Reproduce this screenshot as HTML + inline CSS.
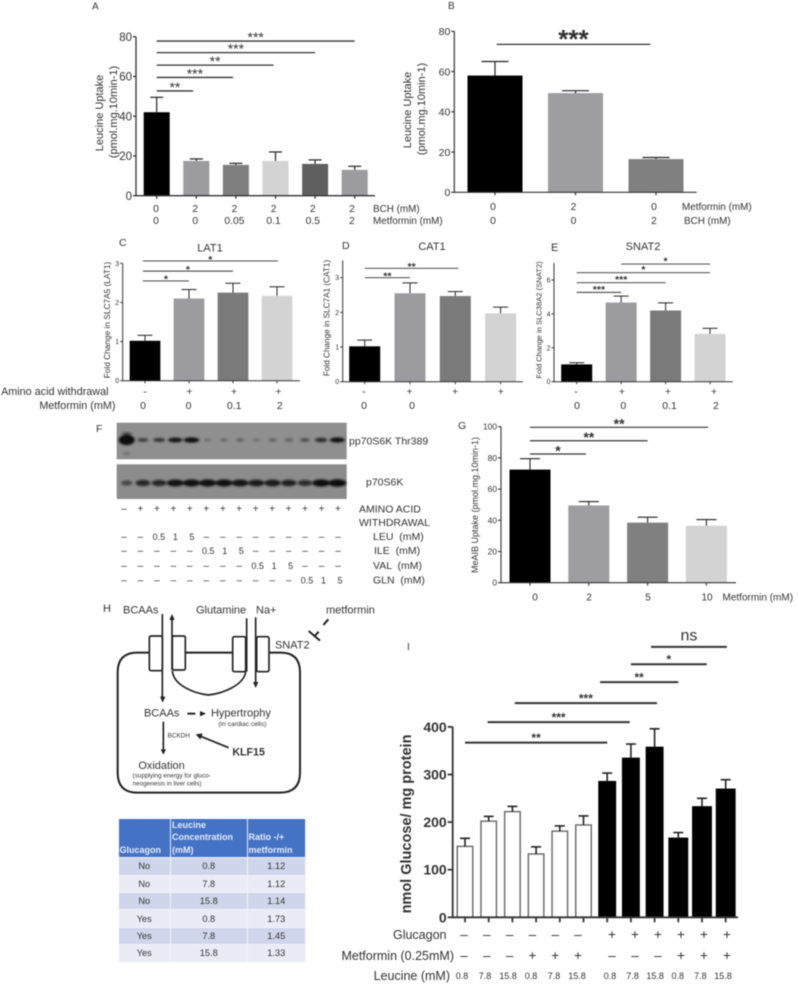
<!DOCTYPE html>
<html lang="en">
<head>
<meta charset="utf-8">
<title>Metformin and amino acid uptake figure</title>
<style>
html,body{margin:0;padding:0;background:#fff;}
#figure{position:relative;width:799px;height:984px;overflow:hidden;background:#fff;filter:blur(0.5px);font-family:"Liberation Sans",sans-serif;}
#canvas{position:absolute;left:0;top:0;}
#canvas text{font-family:"Liberation Sans",sans-serif;fill:#333;}
#ratio-table{position:absolute;left:118.5px;top:819px;width:187px;height:136px;border-collapse:collapse;table-layout:fixed;font-size:9.2px;color:#333;}
#ratio-table th{background:#4472c4;color:#e6ecf8;font-weight:bold;text-align:left;vertical-align:bottom;padding:0 0 1px 1px;line-height:12.4px;border-right:1px solid #e8ecf6;font-size:9px;}
#ratio-table td{text-align:center;padding:0;height:16.4px;border-right:1px solid #f4f5fa;border-top:1px solid #f2f3f9;}
#ratio-table tr.odd td{background:#cfd5ea;}
#ratio-table tr.even td{background:#e9ebf5;}
</style>
</head>
<body>
<div id="figure">
<svg id="canvas" xmlns="http://www.w3.org/2000/svg" width="799" height="984" viewBox="0 0 799 984">
  <defs>
    <filter id="band-blur" x="-30%" y="-80%" width="160%" height="260%"><feGaussianBlur stdDeviation="1.1"></feGaussianBlur></filter>
  </defs>

  <!-- Panel H pathway diagram, drawn in 3x local coordinates -->
  <g id="pathway" transform="translate(80 610) scale(0.33333)">
    <path d="M207 128 H172 Q113 128 113 187 V488 Q113 548 172 548 H600 Q660 548 660 488 V187 Q660 128 602 128 H567" fill="none" stroke="#222" stroke-width="6"></path>
    <line x1="316" y1="128" x2="458" y2="128" stroke="#222" stroke-width="6"></line>
    <rect x="208" y="78" width="39" height="104" rx="5" fill="#fff" stroke="#222" stroke-width="5"></rect>
    <rect x="277" y="78" width="39" height="102" rx="5" fill="#fff" stroke="#222" stroke-width="5"></rect>
    <rect x="458" y="80" width="39" height="105" rx="5" fill="#fff" stroke="#222" stroke-width="5"></rect>
    <rect x="530" y="80" width="37" height="105" rx="5" fill="#fff" stroke="#222" stroke-width="5"></rect>
    <path d="M277 182 C280 225 340 250 385 255 C430 250 492 225 497 185" fill="none" stroke="#222" stroke-width="5"></path>
    <line x1="247" y1="12" x2="247" y2="262" stroke="#222" stroke-width="5"></line>
    <polygon points="240,260 256,260 248,278" fill="#222"></polygon>
    <line x1="276" y1="180" x2="276" y2="28" stroke="#222" stroke-width="5"></line>
    <polygon points="268,30 284,30 276,12" fill="#222"></polygon>
    <line x1="500" y1="25" x2="500" y2="185" stroke="#222" stroke-width="5"></line>
    <line x1="527" y1="22" x2="527" y2="218" stroke="#222" stroke-width="5"></line>
    <polygon points="519,216 535,216 527,234" fill="#222"></polygon>
    <line x1="686" y1="63" x2="720" y2="92" stroke="#222" stroke-width="6"></line>
    <line x1="704" y1="78" x2="716" y2="65" stroke="#222" stroke-width="6"></line>
    <line x1="730" y1="45" x2="745" y2="28" stroke="#222" stroke-width="6"></line>
    <line x1="322" y1="311" x2="346" y2="311" stroke="#222" stroke-width="6"></line>
    <polygon points="360,303 360,319 378,311" fill="#222"></polygon>
    <line x1="250" y1="335" x2="250" y2="420" stroke="#222" stroke-width="5"></line>
    <polygon points="242,418 258,418 250,434" fill="#222"></polygon>
    <line x1="446" y1="413" x2="362" y2="379" stroke="#222" stroke-width="5"></line>
    <polygon points="347,373 368,370 361,388" fill="#222"></polygon>
    <text x="585" y="115" font-size="33">SNAT2</text>
    <text x="192" y="320" font-size="33">BCAAs</text>
    <text x="393" y="320" font-size="33">Hypertrophy</text>
    <text x="415" y="348" font-size="20">(in cardiac cells)</text>
    <text x="263" y="382" font-size="19">BCKDH</text>
    <text x="457" y="436" font-size="32" font-weight="bold">KLF15</text>
    <text x="175" y="477" font-size="33">Oxidation</text>
    <text x="158" y="503" font-size="19">(supplying energy for gluco-</text>
    <text x="158" y="527" font-size="19">neogenesis in liver cells)</text>
  </g>
  <text x="103" y="612" font-size="11">H</text>
  <text x="123" y="613.5" font-size="11">BCAAs</text>
  <text x="196" y="613.5" font-size="11">Glutamine</text>
  <text x="256" y="613.5" font-size="11">Na+</text>
  <text x="326" y="613.5" font-size="11">metformin</text>

  <!-- Panel F blot labels -->
  <text x="96" y="432" font-size="10.5">F</text>
  <text x="349" y="444.5" font-size="10.5">pp70S6K Thr389</text>
  <text x="366" y="485.5" font-size="10.5">p70S6K</text>
  <text x="359" y="512.5" font-size="10.5">AMINO ACID</text>
  <text x="359" y="526" font-size="10.5">WITHDRAWAL</text>
  <text x="373" y="540" font-size="10.5" xml:space="preserve">LEU  (mM)</text>
  <text x="374" y="554" font-size="10.5" xml:space="preserve">ILE  (mM)</text>
  <text x="373" y="569" font-size="10.5" xml:space="preserve">VAL  (mM)</text>
  <text x="373" y="583.5" font-size="10.5" xml:space="preserve">GLN  (mM)</text>
</svg>

<table id="ratio-table">
  <colgroup><col style="width:52px"><col style="width:76.5px"><col style="width:58.5px"></colgroup>
  <thead>
    <tr>
      <th>Glucagon</th>
      <th>Leucine<br>Concentration<br>(mM)</th>
      <th>Ratio -/+<br>metformin</th>
    </tr>
  </thead>
  <tbody>
    <tr class="odd"><td>No</td><td>0.8</td><td>1.12</td></tr>
    <tr class="even"><td>No</td><td>7.8</td><td>1.12</td></tr>
    <tr class="odd"><td>No</td><td>15.8</td><td>1.14</td></tr>
    <tr class="even"><td>Yes</td><td>0.8</td><td>1.73</td></tr>
    <tr class="odd"><td>Yes</td><td>7.8</td><td>1.45</td></tr>
    <tr class="even"><td>Yes</td><td>15.8</td><td>1.33</td></tr>
  </tbody>
</table>
</div>

<script>
// ----- Panel A data -----
const aValues = [42, 17.5, 15.5, 17.5, 16, 13];
const aErrorTops = [49.5, 18.5, 16.3, 22, 18, 14.8];
const aTicks = [0, 20, 40, 60, 80];
const aBchLabels = ['0', '2', '2', '2', '2', '2'];
const aMetforminLabels = ['0', '0', '0.05', '0.1', '0.5', '2'];
const aSigFrom = [0, 0, 0, 0, 0];
const aSigTo = [5, 4, 2.95, 1.93, 0.92];
const aSigLevels = [77.8, 72, 65.7, 59.5, 52.7];
const aSigText = ['***', '***', '**', '***', '**'];

// ----- Panel B data -----
const bValues = [58, 49.3, 16.5];
const bErrorTops = [65, 50.5, 17.3];
const bTicks = [0, 20, 40, 60, 80];
const bMetforminLabels = ['0', '2', '0'];
const bBchLabels = ['0', '0', '2'];
const bSigFrom = [0.02];
const bSigTo = [1.93];
const bSigLevels = [73.5];
const bSigText = ['***'];

// ----- Panel C data -----
const cValues = [1.02, 2.1, 2.25, 2.17];
const cErrorTops = [1.16, 2.33, 2.49, 2.4];
const cTicks = [0, 1, 2, 3];
const cWithdrawalLabels = ['-', '+', '+', '+'];
const cMetforminLabels = ['0', '0', '0.1', '2'];
const cSigFrom = [-0.05, -0.05, -0.05];
const cSigTo = [3.02, 2, 1];
const cSigLevels = [3.06, 2.8, 2.55];
const cSigText = ['*', '*', '*'];

// ----- Panel D data -----
const dValues = [1.02, 2.55, 2.47, 1.97];
const dErrorTops = [1.2, 2.85, 2.6, 2.15];
const dTicks = [0, 1, 2, 3];
const dWithdrawalLabels = ['-', '+', '+', '+'];
const dMetforminLabels = ['0', '0'];
const dSigFrom = [0, 0];
const dSigTo = [2.07, 1];
const dSigLevels = [3.27, 3.0];
const dSigText = ['**', '**'];

// ----- Panel E data -----
const eValues = [1.02, 4.67, 4.2, 2.82];
const eErrorTops = [1.12, 5.05, 4.65, 3.15];
const eTicks = [0, 2, 4, 6];
const eWithdrawalLabels = ['-', '+', '+', '+'];
const eMetforminLabels = ['0', '0', '0.1', '2'];
const eSigFrom = [1, 0, 0, 0];
const eSigTo = [3, 3, 2, 1];
const eSigLevels = [6.94, 6.43, 5.84, 5.27];
const eSigText = ['*', '*', '***', '***'];

// ----- Panel G data -----
const gValues = [72.5, 49.5, 38.5, 36.5];
const gErrorTops = [79.5, 52, 42, 40.5];
const gTicks = [0, 20, 40, 60, 80, 100];
const gMetforminLabels = ['0', '2', '5', '10'];
const gSigFrom = [0, 0, 0];
const gSigTo = [3.03, 2, 0.95];
const gSigLevels = [99.6, 91, 82.5];
const gSigText = ['**', '**', '*'];

// ----- Panel I data -----
const iValues = [149, 202, 222, 133, 181, 194, 285, 334, 357, 166, 232, 269];
const iErrorTops = [166, 212, 233, 148, 192, 213, 303, 364, 396, 178, 250, 289];
const iTicks = [0, 100, 200, 300, 400];
const iGlucagonLabels = ['–', '–', '–', '–', '–', '–', '+', '+', '+', '+', '+', '+'];
const iMetforminLabels = ['–', '–', '–', '+', '+', '+', '–', '–', '–', '+', '+', '+'];
const iLeucineLabels = ['0.8', '7.8', '15.8', '0.8', '7.8', '15.8', '0.8', '7.8', '15.8', '0.8', '7.8', '15.8'];
const iSigFrom = [0, 0.95, 2.1, 5.7, 7, 7.85];
const iSigTo = [6, 6.95, 8.1, 9, 10.2, 11.05];
const iSigLevels = [367, 410, 450, 494, 531.5, 568];
const iSigText = ['**', '***', '***', '**', '*', 'ns'];

// ----- Panel F blot data (relative band intensity per lane) -----
const phosphoBands = [1, 0.55, 0.62, 0.85, 0.95, 0.18, 0.22, 0.28, 0.18, 0.28, 0.3, 0.42, 0.68, 0.92];
const totalBands = [0.5, 0.75, 0.75, 0.9, 0.92, 0.92, 0.92, 0.88, 0.85, 0.85, 0.8, 0.72, 0.95, 0.98];
const fWithdrawalLabels = ['–', '+', '+', '+', '+', '+', '+', '+', '+', '+', '+', '+', '+', '+'];
const fLeuLabels = ['–', '–', '0.5', '1', '5', '–', '–', '–', '–', '–', '–', '–', '–', '–'];
const fIleLabels = ['–', '–', '–', '–', '–', '0.5', '1', '5', '–', '–', '–', '–', '–', '–'];
const fValLabels = ['–', '–', '–', '–', '–', '–', '–', '–', '0.5', '1', '5', '–', '–', '–'];
const fGlnLabels = ['–', '–', '–', '–', '–', '–', '–', '–', '–', '–', '–', '0.5', '1', '5'];

const SVG_NS = 'http://www.w3.org/2000/svg';
const canvas = document.getElementById('canvas');

function mk(tag, parent, attrs, content) {
  const node = document.createElementNS(SVG_NS, tag);
  Object.keys(attrs).forEach(function (k) { node.setAttribute(k, attrs[k]); });
  if (content !== undefined) node.textContent = content;
  parent.appendChild(node);
  return node;
}

function drawPanel(p) {
  const xAt = function (i) { return p.x0 + i * p.step; };
  const yAt = function (v) { return p.y0 - v * p.unit; };
  const g = mk('g', canvas, {});
  
  

  p.values.forEach(function (v, i) {
    const w = p.barWidths ? p.barWidths[i] : p.barWidth;
    const bar = mk('rect', g, {
      x: xAt(i) - w / 2, y: yAt(v), width: w, height: yAt(0) - yAt(v),
      fill: p.fills[i], stroke: p.strokes ? p.strokes[i] : 'none', 'stroke-width': p.strokes ? 1.4 : 0
    });
    
    

    const stem = mk('line', g, {
      x1: xAt(i), x2: xAt(i), y1: yAt(v), y2: yAt(p.errors[i]),
      stroke: '#222', 'stroke-width': p.errWidth
    });
    
    

    const cap = mk('line', g, {
      x1: xAt(i) - p.capWidth / 2, x2: xAt(i) + p.capWidth / 2, y1: yAt(p.errors[i]), y2: yAt(p.errors[i]),
      stroke: '#222', 'stroke-width': p.errWidth
    });
    
    

    const tick = mk('line', g, {
      x1: xAt(i), x2: xAt(i), y1: yAt(0), y2: yAt(0) + p.tickLen,
      stroke: '#333', 'stroke-width': p.axisWidth
    });
    
    
  });

  const yAxis = mk('line', g, {
    x1: p.axisX, x2: p.axisX, y1: yAt(p.yMax), y2: yAt(0) + p.axisWidth / 2,
    stroke: '#333', 'stroke-width': p.axisWidth
  });
  
  

  const xAxis = mk('line', g, {
    x1: p.axisX, x2: p.axisEnd, y1: yAt(0), y2: yAt(0),
    stroke: '#333', 'stroke-width': p.axisWidth
  });
  
  

  p.ticks.forEach(function (t) {
    const tick = mk('line', g, {
      x1: p.axisX - p.tickLen, x2: p.axisX, y1: yAt(t), y2: yAt(t),
      stroke: '#333', 'stroke-width': p.axisWidth
    });
    
    

    const label = mk('text', g, {
      x: p.axisX - p.tickLen - 1, y: yAt(t) + p.tickFont * 0.36, 'text-anchor': 'end',
      'font-size': p.tickFont, 'font-weight': p.tickWeight || 'normal'
    }, String(t));
    
    
  });

  p.sigLevels.forEach(function (level, i) {
    const ly = yAt(level);
    const x1 = xAt(p.sigFrom[i]);
    const x2 = xAt(p.sigTo[i]);
    const line = mk('line', g, { x1: x1, x2: x2, y1: ly, y2: ly, stroke: '#333', 'stroke-width': p.sigWidth });
    
    

    const isNs = p.sigText[i] === 'ns';
    const mark = mk('text', g, {
      x: (x1 + x2) / 2, 'text-anchor': 'middle',
      y: isNs ? ly - 6.3 : ly - p.sigGap + 0.43 * p.sigFont,
      'font-size': isNs ? 16 : p.sigFont,
      'font-weight': isNs ? 'normal' : (p.sigWeight || 'bold')
    }, p.sigText[i]);
    
    
  });

  p.rows.forEach(function (row, r) {
    row.labels.forEach(function (text, i) {
      const cell = mk('text', g, {
        x: row.at(i), y: row.y, 'text-anchor': 'middle', 'font-size': row.size
      }, text);
      
      
    });
  });
}

function addStaticText(text, x, y, size, anchor, weight) {
  const t = mk('text', canvas, { x: x, y: y, 'font-size': size, 'text-anchor': anchor || 'start', 'font-weight': weight || 'normal' }, text);
  return t;
}

function addRotatedText(text, x, y, size, weight) {
  const t = mk('text', canvas, {
    x: 0, y: 0, 'font-size': size, 'text-anchor': 'middle', 'font-weight': weight || 'normal',
    transform: 'translate(' + x + ' ' + y + ') rotate(-90)'
  }, text);
  return t;
}

drawPanel({
  id: 'a', name: 'leucine-uptake-bch-chart', x0: 156.7, step: 39.6, y0: 195.7, unit: 1.9875, yMax: 80,
  axisX: 136, axisEnd: 375, axisWidth: 1.3, tickLen: 3, tickFont: 11.5, barWidth: 26,
  values: aValues, errors: aErrorTops, ticks: aTicks, capWidth: 13, errWidth: 1.2,
  fills: ['#000', '#9c9ca0', '#7f7f7f', '#d3d3d3', '#5f5f5f', '#9c9ca0'],
  sigFrom: aSigFrom, sigTo: aSigTo, sigLevels: aSigLevels, sigText: aSigText, sigWidth: 1.3, sigFont: 14, sigGap: 5, sigWeight: 'normal',
  rows: [
    { labels: aBchLabels, y: 212, size: 10.3, at: function (i) { return 156 + i * 39.2; } },
    { labels: aMetforminLabels, y: 224, size: 10.3, at: function (i) { return 156 + i * 39.2; } }
  ]
});

drawPanel({
  id: 'b', name: 'leucine-uptake-metformin-chart', x0: 495, step: 80.5, y0: 192.3, unit: 2.0125, yMax: 80,
  axisX: 454.3, axisEnd: 696.7, axisWidth: 1.2, tickLen: 3, tickFont: 10.5, barWidth: 55,
  values: bValues, errors: bErrorTops, ticks: bTicks, capWidth: 27, errWidth: 1.2,
  fills: ['#000', '#9e9ea2', '#808080'],
  sigFrom: bSigFrom, sigTo: bSigTo, sigLevels: bSigLevels, sigText: bSigText, sigWidth: 1.3, sigFont: 26, sigGap: 7.5,
  rows: [
    { labels: bMetforminLabels, y: 210, size: 10.3, at: function (i) { return 493 + i * 80.5; } },
    { labels: bBchLabels, y: 224, size: 10.3, at: function (i) { return 493 + i * 80.5; } }
  ]
});

drawPanel({
  id: 'c', name: 'lat1-fold-change-chart', x0: 145, step: 44, y0: 380.7, unit: 39.13, yMax: 3,
  axisX: 122.7, axisEnd: 300, axisWidth: 1, tickLen: 2.5, tickFont: 7, barWidth: 30.7,
  values: cValues, errors: cErrorTops, ticks: cTicks, capWidth: 15, errWidth: 1,
  fills: ['#000', '#9c9ca0', '#7a7a7a', '#d3d3d3'],
  sigFrom: cSigFrom, sigTo: cSigTo, sigLevels: cSigLevels, sigText: cSigText, sigWidth: 0.9, sigFont: 10.5, sigGap: 2.7,
  rows: [
    { labels: cWithdrawalLabels, y: 395, size: 10.5, at: function (i) { return 145 + i * 44.5; } },
    { labels: cMetforminLabels, y: 409, size: 10.5, at: function (i) { return 143 + i * 45.6; } }
  ]
});

drawPanel({
  id: 'd', name: 'cat1-fold-change-chart', x0: 364.7, step: 45.3, y0: 381.7, unit: 34.67, yMax: 3.5,
  axisX: 342.7, axisEnd: 523, axisWidth: 1, tickLen: 2.5, tickFont: 7, barWidth: 31,
  values: dValues, errors: dErrorTops, ticks: dTicks, capWidth: 15, errWidth: 1,
  fills: ['#000', '#9c9ca0', '#7a7a7a', '#d3d3d3'],
  sigFrom: dSigFrom, sigTo: dSigTo, sigLevels: dSigLevels, sigText: dSigText, sigWidth: 0.9, sigFont: 10.5, sigGap: 2.7,
  rows: [
    { labels: dWithdrawalLabels, y: 395, size: 10.5, at: function (i) { return 364 + i * 45.6; } },
    { labels: dMetforminLabels, y: 409, size: 10.5, at: function (i) { return 364 + i * 48; } }
  ]
});

drawPanel({
  id: 'e', name: 'snat2-fold-change-chart', x0: 576.7, step: 44.45, y0: 381.7, unit: 16.95, yMax: 7,
  axisX: 554, axisEnd: 732.7, axisWidth: 1, tickLen: 2.5, tickFont: 7, barWidth: 31,
  values: eValues, errors: eErrorTops, ticks: eTicks, capWidth: 15, errWidth: 1,
  fills: ['#000', '#9c9ca0', '#7a7a7a', '#d3d3d3'],
  sigFrom: eSigFrom, sigTo: eSigTo, sigLevels: eSigLevels, sigText: eSigText, sigWidth: 0.9, sigFont: 10.5, sigGap: 4,
  rows: [
    { labels: eWithdrawalLabels, y: 395, size: 10.5, at: function (i) { return 576 + i * 46; } },
    { labels: eMetforminLabels, y: 409, size: 10.5, at: function (i) { return 577 + i * 46.3; } }
  ]
});

drawPanel({
  id: 'g', name: 'meaib-uptake-chart', x0: 530, step: 58.8, y0: 582.7, unit: 1.56, yMax: 100,
  axisX: 501, axisEnd: 736, axisWidth: 1.1, tickLen: 3, tickFont: 8.4, barWidth: 41,
  values: gValues, errors: gErrorTops, ticks: gTicks, capWidth: 20, errWidth: 1.1,
  fills: ['#000', '#9e9ea2', '#808080', '#d3d3d3'],
  sigFrom: gSigFrom, sigTo: gSigTo, sigLevels: gSigLevels, sigText: gSigText, sigWidth: 1.2, sigFont: 14, sigGap: 4.7,
  rows: [
    { labels: gMetforminLabels, y: 600.5, size: 10, at: function (i) { return i === 0 ? 535 : 530 + i * 59; } }
  ]
});

drawPanel({
  id: 'i', name: 'glucose-production-chart', x0: 465, step: 23.7, y0: 917.3, unit: 0.476, yMax: 400,
  axisX: 452.7, axisEnd: 738, axisWidth: 1.8, tickLen: 5, tickFont: 14, tickWeight: 'bold',
  barWidths: [15.5, 15.5, 15.5, 15.5, 15.5, 15.5, 16.5, 16.5, 16.5, 18.5, 18.5, 18.5],
  values: iValues, errors: iErrorTops, ticks: iTicks, capWidth: 10, errWidth: 1.6,
  fills: ['#fff', '#fff', '#fff', '#fff', '#fff', '#fff', '#000', '#000', '#000', '#000', '#000', '#000'],
  strokes: ['#666', '#666', '#666', '#666', '#666', '#666', '#000', '#000', '#000', '#000', '#000', '#000'],
  sigFrom: iSigFrom, sigTo: iSigTo, sigLevels: iSigLevels, sigText: iSigText, sigWidth: 2, sigFont: 12, sigGap: 6,
  rows: [
    { labels: iGlucagonLabels, y: 939, size: 13.5, at: function (i) { return i < 6 ? 464 + i * 22.8 : 612 + (i - 6) * 23; } },
    { labels: iMetforminLabels, y: 960, size: 13.5, at: function (i) { return i < 6 ? 464 + i * 22.8 : 612 + (i - 6) * 23; } },
    { labels: iLeucineLabels, y: 979, size: 9, at: function (i) { return i < 6 ? 462 + i * 23 : 610 + (i - 6) * 22.6; } }
  ]
});

// ----- Panel F blots -----
const blotTop = mk('rect', canvas, { x: 116.7, y: 422.7, width: 230, height: 36.6, fill: '#8f8f8f' });


const blotBottom = mk('rect', canvas, { x: 116.7, y: 464.3, width: 230, height: 34.7, fill: '#8c8c8c' });



const laneX = function (i) { return 126.7 + i * 16.2; };
const bandLayer = mk('g', canvas, { filter: 'url(#band-blur)' });



phosphoBands.forEach(function (v, i) {
  const band = mk('ellipse', bandLayer, {
    cx: laneX(i), cy: 440, rx: 2.5 + v * 5.5, ry: 0.8 + v * (i === 0 ? 4.4 : 1.9), fill: '#111', 'fill-opacity': Math.min(1, 0.2 + v * 0.9)
  });
  
  
});
totalBands.forEach(function (v, i) {
  const band = mk('ellipse', bandLayer, {
    cx: laneX(i), cy: 483, rx: 2 + v * 7.2, ry: 1 + v * 2.8, fill: '#111', 'fill-opacity': Math.min(1, 0.15 + v * 0.9)
  });
  
  
});
const upperExtra = mk('ellipse', bandLayer, { cx: laneX(0), cy: 433.5, rx: 5, ry: 1.2, fill: '#222', 'fill-opacity': 0.7 });


const lowerExtra = mk('ellipse', bandLayer, { cx: laneX(0), cy: 453.5, rx: 4, ry: 1.5, fill: '#444', 'fill-opacity': 0.45 });



const blotRowX = function (i, text) {
  return 124 + i * 16.46 + (/[0-9]/.test(text) ? 2 : 0);
};
[[fWithdrawalLabels, 512, 'withdrawal'], [fLeuLabels, 540, 'leu'], [fIleLabels, 554, 'ile'], [fValLabels, 569, 'val'], [fGlnLabels, 583.5, 'gln']].forEach(function (row) {
  row[0].forEach(function (text, i) {
    const isNum = /[0-9]/.test(text);
    const t = mk('text', canvas, { x: blotRowX(i, text), y: row[1], 'text-anchor': 'middle', 'font-size': isNum ? 9 : 10 }, text);
    
    
  });
});

// ----- Static annotations -----
let note;
note = addStaticText('A', 92, 9.5, 10);


note = addStaticText('B', 448, 9, 10);


note = addStaticText('C', 119, 246, 10.5);


note = addStaticText('D', 342, 249, 10.5);


note = addStaticText('E', 551, 251, 11);


note = addStaticText('G', 458, 429, 10.5);


note = addStaticText('I', 407, 650, 10);



note = addStaticText('BCH (mM)', 373, 212, 9.9);


note = addStaticText('Metformin (mM)', 373, 224, 9.9);


note = addStaticText('Metformin (mM)', 682, 210, 9.9);


note = addStaticText('BCH (mM)', 684, 224, 9.9);


note = addStaticText('Amino acid withdrawal', 108.5, 395, 10.8, 'end');


note = addStaticText('Metformin (mM)', 115.5, 409, 10.8, 'end');


note = addStaticText('LAT1', 210, 251.5, 11, 'middle');


note = addStaticText('CAT1', 432, 250, 11, 'middle');


note = addStaticText('SNAT2', 643, 250, 11, 'middle');


note = addStaticText('Metformin (mM)', 722.5, 600.5, 10);


note = addStaticText('Glucagon', 446.5, 939, 12.5, 'end');


note = addStaticText('Metformin (0.25mM)', 454, 960, 12.5, 'end');


note = addStaticText('Leucine (mM)', 450, 980, 12.5, 'end');



note = addRotatedText('Leucine Uptake', 103, 113, 11);


note = addRotatedText('(pmol.mg.10min-1)', 117, 112, 11);


note = addRotatedText('Leucine Uptake', 411, 110, 11);


note = addRotatedText('(pmol.mg.10min-1)', 425, 109, 11);


note = addRotatedText('Fold Change in SLC7A5 (LAT1)', 110, 320, 8.3);


note = addRotatedText('Fold Change in SLC7A1 (CAT1)', 329.5, 318, 8.2);


note = addRotatedText('Fold Change in SLC38A2 (SNAT2)', 541.5, 320, 7.6);


note = addRotatedText('MeAIB Uptake (pmol.mg.10min-1)', 478, 505, 9);


note = addRotatedText('nmol Glucose/ mg protein', 411, 824, 14.5, 'bold');


</script>
</body>
</html>
